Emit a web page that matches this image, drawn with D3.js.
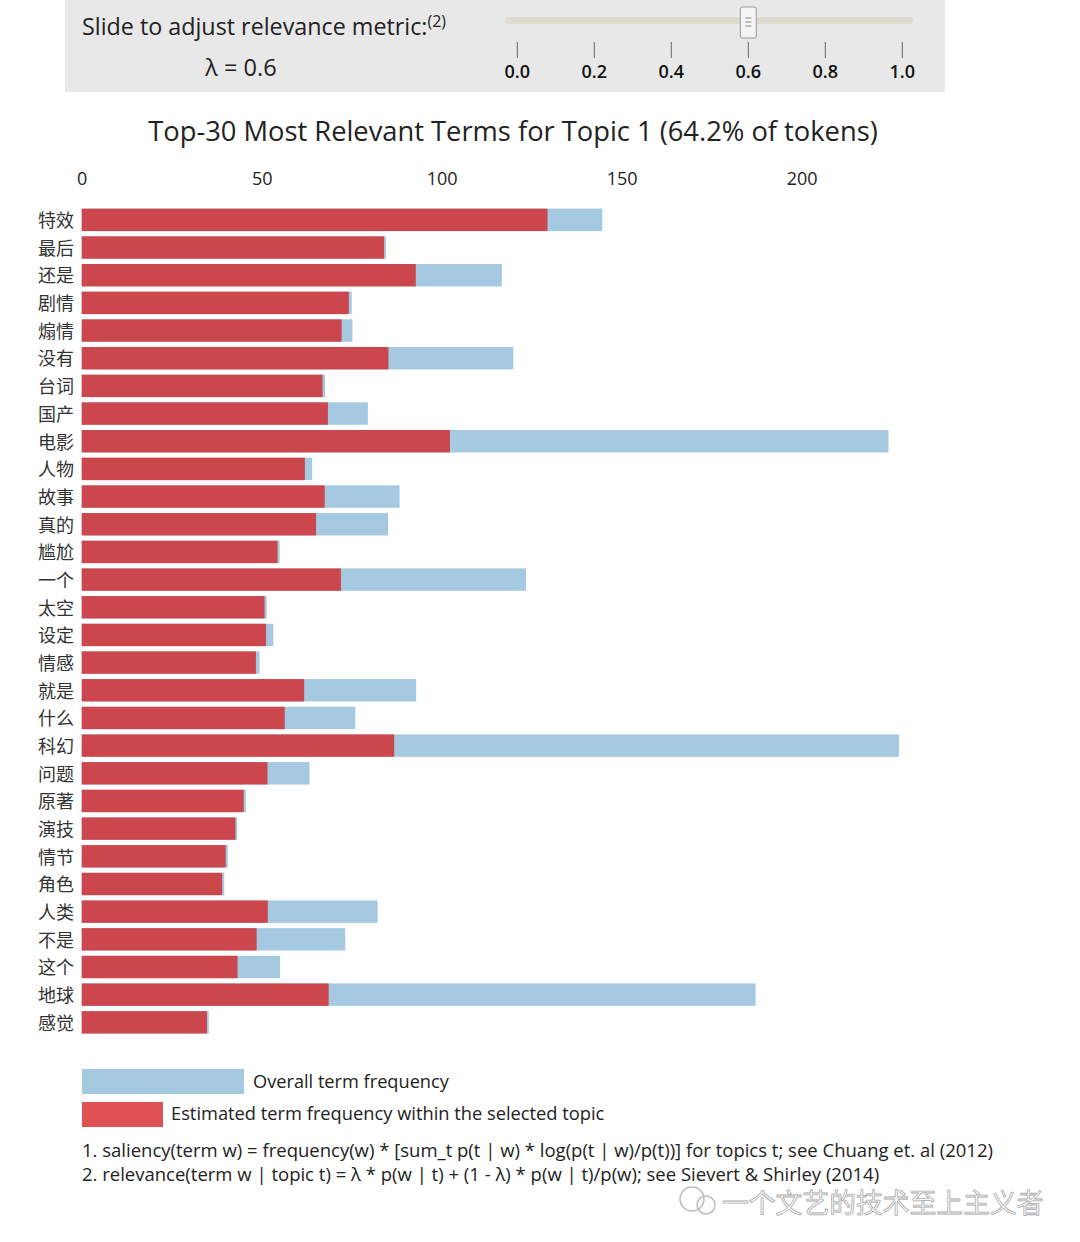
<!DOCTYPE html>
<html><head><meta charset="utf-8">
<script src="https://cdn.jsdelivr.net/npm/d3@7"></script>
<style>
body{margin:0;background:#fff;}
svg text{font-family:"Open Sans","Noto Sans","Noto Sans CJK SC",sans-serif;}
</style></head>
<body><svg id="c" width="1080" height="1242"></svg>
<script>
const terms = ["特效","最后","还是","剧情","煽情","没有","台词","国产","电影","人物","故事","真的","尴尬","一个","太空","设定","情感","就是","什么","科幻","问题","原著","演技","情节","角色","人类","不是","这个","地球","感觉"];
const overallFreq = [144.6,84.5,116.7,75.0,75.2,119.9,67.6,79.5,224.1,64.0,88.3,85.1,55.0,123.4,51.4,53.2,49.4,92.9,76.0,227.0,63.3,45.6,43.2,40.6,39.6,82.2,73.2,55.1,187.2,35.3];
const topicFreq = [129.4,84.0,92.8,74.2,72.2,85.2,66.9,68.4,102.3,62.0,67.5,65.1,54.4,72.0,50.8,51.2,48.4,61.8,56.4,86.8,51.6,45.0,42.7,40.0,39.0,51.7,48.6,43.3,68.6,34.8];
const xTicks = [0,50,100,150,200];
const sliderTicks = [0.0,0.2,0.4,0.6,0.8,1.0];
const lambda = 0.6;
const topicNum = 1, tokenPct = "64.2%";

const svg = d3.select("#c");
const cjk = '"Noto Sans CJK SC","Noto Sans",sans-serif';

// top panel
svg.append("rect").attr("x",65).attr("y",0).attr("width",880).attr("height",92).attr("fill","#e8e8e8");
const t1 = svg.append("text").attr("x",82).attr("y",35).attr("font-size",23.3).attr("fill","#222");
t1.append("tspan").text("Slide to adjust relevance metric:");
t1.append("tspan").attr("font-size",16).attr("dy",-8).text("(2)");
svg.append("text").attr("x",241).attr("y",76).attr("text-anchor","middle").attr("font-size",23.5).attr("fill","#222").text("λ = " + lambda);

const s = d3.scaleLinear().domain([0,1]).range([517.3,902.3]);
svg.append("rect").attr("x",505).attr("y",17).attr("width",408).attr("height",7).attr("rx",3).attr("fill","#dedbd0");
const sg = svg.append("g");
sliderTicks.forEach(v=>{
  sg.append("line").attr("x1",s(v)).attr("x2",s(v)).attr("y1",42).attr("y2",58).attr("stroke","#666").attr("stroke-width",1);
  sg.append("text").attr("x",s(v)).attr("y",78).attr("text-anchor","middle").attr("font-size",18).attr("font-weight","600").attr("fill","#111").text(v.toFixed(1));
});
const hx = s(lambda);
svg.append("rect").attr("x",hx-8).attr("y",7).attr("width",16).attr("height",31).attr("rx",2).attr("fill","#f4f4f4").attr("stroke","#999");
[18,22,26].forEach(yy=>svg.append("line").attr("x1",hx-3).attr("x2",hx+3).attr("y1",yy).attr("y2",yy).attr("stroke","#888"));

// title
svg.append("text").attr("x",513).attr("y",141).attr("text-anchor","middle").attr("font-size",27.3).attr("fill","#222")
  .text(`Top-30 Most Relevant Terms for Topic ${topicNum} (${tokenPct} of tokens)`);

// scales
const x = d3.scaleLinear().domain([0,200]).range([81.7,801.7]);
const y = d3.scaleBand().domain(terms).range([203.4,1038.8]).padding(0.19);

// axis
const ax = svg.append("g").attr("transform","translate(0,188)")
  .call(d3.axisTop(x).tickValues(xTicks).tickSize(0).tickFormat(d3.format("d")));
ax.select(".domain").remove();
ax.selectAll("text").attr("font-size",18).attr("fill","#222").attr("font-family",'"Open Sans",sans-serif').attr("dy","0");

const blue = "#1f77b4", red = "#d62728";
svg.append("g").selectAll("rect").data(terms).join("rect")
  .attr("x",x(0)).attr("y",d=>y(d)).attr("height",y.bandwidth())
  .attr("width",(d,i)=>x(overallFreq[i])-x(0)).attr("fill",blue).attr("opacity",0.4);
svg.append("g").selectAll("rect").data(terms).join("rect")
  .attr("x",x(0)).attr("y",d=>y(d)).attr("height",y.bandwidth())
  .attr("width",(d,i)=>x(topicFreq[i])-x(0)).attr("fill",red).attr("opacity",0.8);

const yax = svg.append("g").attr("transform","translate(74,1.5)").call(d3.axisLeft(y).tickSize(0).tickPadding(0));
yax.select(".domain").remove();
yax.selectAll("text").attr("font-size",18).attr("fill","#333").attr("font-family",cjk);

// legend
svg.append("rect").attr("x",82).attr("y",1069).attr("width",162).attr("height",25).attr("fill",blue).attr("opacity",0.4);
svg.append("text").attr("x",253).attr("y",1088).attr("font-size",18.2).attr("fill","#222").text("Overall term frequency");
svg.append("rect").attr("x",82).attr("y",1102).attr("width",81).attr("height",25).attr("fill",red).attr("opacity",0.8);
svg.append("text").attr("x",171).attr("y",1120).attr("font-size",18.3).attr("fill","#222").text("Estimated term frequency within the selected topic");

svg.append("text").attr("x",82).attr("y",1157).attr("font-size",18.5).attr("fill","#222")
  .text("1. saliency(term w) = frequency(w) * [sum_t p(t | w) * log(p(t | w)/p(t))] for topics t; see Chuang et. al (2012)");
svg.append("text").attr("x",82).attr("y",1181).attr("font-size",18.5).attr("fill","#222")
  .text("2. relevance(term w | topic t) = λ * p(w | t) + (1 - λ) * p(w | t)/p(w); see Sievert & Shirley (2014)");

// watermark
svg.append("circle").attr("cx",692).attr("cy",1199).attr("r",12).attr("fill","none").attr("stroke","#bbb").attr("stroke-width",1.5);
svg.append("circle").attr("cx",706).attr("cy",1205).attr("r",9).attr("fill","none").attr("stroke","#bbb").attr("stroke-width",1.5);
svg.append("text").attr("x",722).attr("y",1213).attr("font-size",26.8).attr("fill","#fff").attr("stroke","#aaa").attr("stroke-width",0.8)
  .attr("font-family",cjk).text("一个文艺的技术至上主义者");
</script></body></html>
